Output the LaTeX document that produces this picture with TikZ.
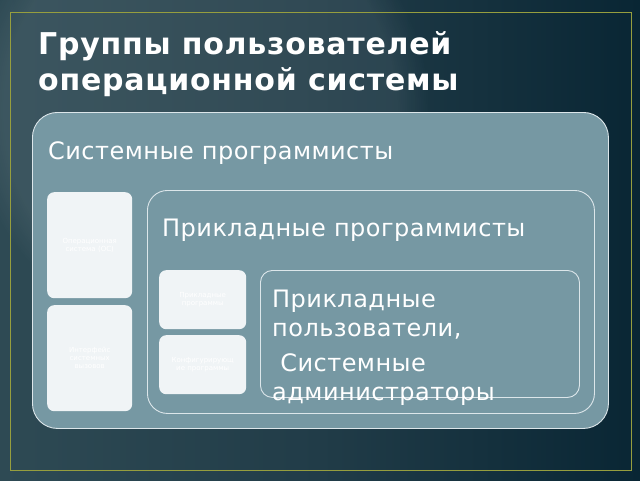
\documentclass[tikz,border=0pt]{standalone}
\usepackage{fontspec}
\setmainfont{DejaVu Sans}
\newfontfamily\spacedfont[LetterSpace=2]{DejaVu Sans}
\newfontfamily\titlefont[LetterSpace=2.5]{DejaVu Sans Bold}
\usetikzlibrary{fadings}
\definecolor{bgL}{RGB}{46,74,84}
\definecolor{bgM}{RGB}{33,60,72}
\definecolor{bgR}{RGB}{9,38,52}
\definecolor{frameC}{RGB}{150,158,62}
\definecolor{panelfill}{RGB}{118,152,163}
\definecolor{panelline}{RGB}{220,230,234}
\definecolor{cardfill}{RGB}{240,244,246}
\begin{document}
\begin{tikzpicture}[x=1pt,y=-1pt,
  panel/.style={draw=panelline, fill=panelfill, line width=0.9pt, rounded corners=#1, anchor=north west, inner sep=0pt},
  frame/.style={draw=panelline, line width=0.9pt, rounded corners=#1, anchor=north west, inner sep=0pt},
  card/.style={fill=cardfill, rounded corners=7pt, anchor=north west, inner sep=0pt},
  cardtext/.style={text=white, font=\fontsize{7}{8}\selectfont, align=center, text width=80pt},
  label/.style={text=white, anchor=west, inner sep=0pt, font=\spacedfont\fontsize{24}{29}\selectfont},
  title/.style={text=white, anchor=north west, inner sep=0pt, align=left, font=\titlefont\fontsize{30}{36}\selectfont}
]
\useasboundingbox (0,0) rectangle (640,480);
\shade[left color=bgL, right color=bgR, middle color=bgM] (0,0) rectangle (640,480);
\fill[white, opacity=0.07, path fading=circle with fuzzy edge 15 percent] (200,110) circle (230pt);
\draw[frameC, line width=1pt] (10,12) rectangle (631,470);

\node[title] (t) at (38,31) {Группы пользователей\\операционной системы};

\node[panel=25pt, minimum width=576pt, minimum height=316pt] (outer) at (32,112) {};
\node[label] (lsys) at (48,153) {Системные программисты};

\node[card, minimum width=85pt, minimum height=106pt] (os) at (47,192) {};
\node[cardtext] at (os.center) {Операционная\\система (ОС)};
\node[card, minimum width=85pt, minimum height=106pt] (api) at (47,305) {};
\node[cardtext] at (api.center) {Интерфейс\\системных\\вызовов};

\node[frame=20pt, minimum width=447pt, minimum height=223pt] (mid) at (147,190) {};
\node[label] (lapp) at (162,230) {Прикладные программисты};

\node[card, minimum width=87pt, minimum height=59pt] (ap) at (159,270) {};
\node[cardtext] at (ap.center) {Прикладные\\программы};
\node[card, minimum width=87pt, minimum height=59pt] (cf) at (159,335) {};
\node[cardtext] at (cf.center) {Конфигурирующ\\ие программы};

\node[frame=12pt, minimum width=319pt, minimum height=127pt] (usr) at (260,270) {};
\node[label, anchor=north west, align=left] (lusr) at (272,290)
  {Прикладные\\пользователи,\\[6pt] \ Системные\\администраторы};
\end{tikzpicture}
\end{document}
